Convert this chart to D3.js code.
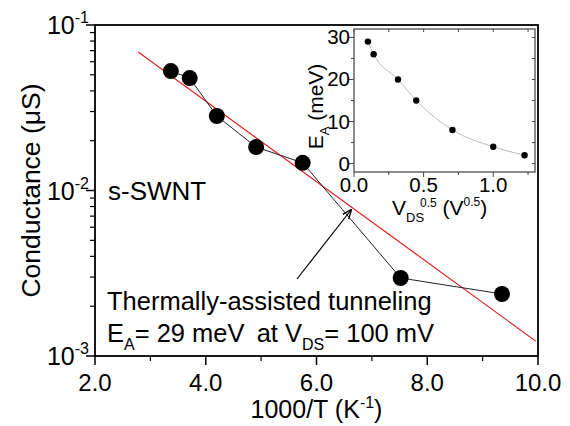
<!DOCTYPE html>
<html><head><meta charset="utf-8">
<script src="https://cdn.jsdelivr.net/npm/d3@7"></script>
<style>
html,body{margin:0;padding:0;background:#fff;}
svg text{font-family:"Liberation Sans",Arial,sans-serif;fill:#000;}
</style></head>
<body><svg id="c" width="570" height="426"></svg>
<script>
// Conductance vs inverse temperature
const invT = [3.37, 3.71, 4.20, 4.91, 5.75, 7.52, 9.35];
const conductance = [0.0527, 0.0478, 0.0282, 0.0183, 0.0147, 0.00296, 0.00237];
// Arrhenius fit line endpoints
const fitX = [2.78, 9.96];
const fitY = [0.0687, 0.00123];
// Inset: activation energy vs sqrt(V_DS)
const sqrtVds = [0.1, 0.141, 0.316, 0.447, 0.707, 1.0, 1.225];
const activation = [29, 26, 20, 15, 8, 4, 2];

const xTicks = [2, 4, 6, 8, 10];
const xMinor = [3, 5, 7, 9];
const yExp = [-3, -2, -1];
const insetXTicks = [0, 0.5, 1.0];
const insetYTicks = [0, 10, 20, 30];

const svg = d3.select("#c");
const L = 95, R = 538, T = 25, B = 356;
const x = d3.scaleLinear().domain([2, 10]).range([L, R]);
const y = d3.scaleLog().domain([1e-3, 1e-1]).range([B, T]);

// y minor ticks
const yMinor = [];
yExp.slice(0, 2).forEach(e => { for (let k = 2; k <= 9; k++) yMinor.push(k * Math.pow(10, e)); });

const g = svg.append("g");
g.selectAll(".ym").data(yMinor).join("line")
  .attr("x1", L - 5).attr("x2", L).attr("y1", d => y(d)).attr("y2", d => y(d))
  .attr("stroke", "#000").attr("stroke-width", 1.2);
g.selectAll(".yM").data(yExp).join("line")
  .attr("x1", L - 9).attr("x2", L).attr("y1", d => y(Math.pow(10, d))).attr("y2", d => y(Math.pow(10, d)))
  .attr("stroke", "#000").attr("stroke-width", 1.5);
g.selectAll(".xm").data(xMinor).join("line")
  .attr("x1", d => x(d)).attr("x2", d => x(d)).attr("y1", B).attr("y2", B + 5)
  .attr("stroke", "#000").attr("stroke-width", 1.2);
g.selectAll(".xM").data(xTicks).join("line")
  .attr("x1", d => x(d)).attr("x2", d => x(d)).attr("y1", B).attr("y2", B + 9)
  .attr("stroke", "#000").attr("stroke-width", 1.5);

// frame
g.append("rect").attr("x", L).attr("y", T).attr("width", R - L).attr("height", B - T)
  .attr("fill", "none").attr("stroke", "#000").attr("stroke-width", 1.8);

// tick labels
g.selectAll(".xl").data(xTicks).join("text")
  .attr("x", d => x(d)).attr("y", B + 35).attr("text-anchor", "middle")
  .attr("font-size", 24).text(d => d.toFixed(1));
const yl = g.selectAll(".yl").data(yExp).join("text")
  .attr("x", L - 6).attr("y", d => y(Math.pow(10, d)) + 9).attr("text-anchor", "end")
  .attr("font-size", 25);
yl.append("tspan").text("10");
yl.append("tspan").attr("dy", -11).attr("font-size", 16).text(d => "-" + (-d));

// axis titles
const xt = g.append("text").attr("x", x(6)).attr("y", 418).attr("text-anchor", "middle").attr("font-size", 25);
xt.append("tspan").text("1000/T (K");
xt.append("tspan").attr("dy", -10).attr("font-size", 16).text("-1");
xt.append("tspan").attr("dy", 10).text(")");
g.append("text").attr("transform", `translate(40,${(T + B) / 2}) rotate(-90)`)
  .attr("text-anchor", "middle").attr("font-size", 26.5).text("Conductance (\u03bcS)");

// fit line
g.append("line").attr("x1", x(fitX[0])).attr("y1", y(fitY[0])).attr("x2", x(fitX[1])).attr("y2", y(fitY[1]))
  .attr("stroke", "#e02020").attr("stroke-width", 1.2);

// data
const pts = invT.map((v, i) => [v, conductance[i]]);
g.append("path").attr("d", d3.line().x(d => x(d[0])).y(d => y(d[1]))(pts))
  .attr("fill", "none").attr("stroke", "#222").attr("stroke-width", 1);
g.selectAll(".pt").data(pts).join("circle")
  .attr("cx", d => x(d[0])).attr("cy", d => y(d[1])).attr("r", 8).attr("fill", "#000");

// annotations
g.append("text").attr("x", 108).attr("y", 200).attr("font-size", 26).text("s-SWNT");
g.append("text").attr("x", 107).attr("y", 310).attr("font-size", 25.5).text("Thermally-assisted tunneling");
const ea = g.append("text").attr("x", 107).attr("y", 342).attr("font-size", 25.5);
ea.append("tspan").text("E");
ea.append("tspan").attr("dy", 8).attr("font-size", 16).text("A");
ea.append("tspan").attr("dy", -8).text("= 29 meV");
ea.append("tspan").attr("dx", 14).text("at V");
ea.append("tspan").attr("dy", 8).attr("font-size", 16).text("DS");
ea.append("tspan").attr("dy", -8).text("= 100 mV");

// arrow
svg.append("defs").append("marker").attr("id", "ah").attr("viewBox", "0 0 10 10")
  .attr("refX", 9).attr("refY", 5).attr("markerWidth", 8).attr("markerHeight", 8).attr("orient", "auto")
  .append("path").attr("d", "M0,1 L10,5 L0,9").attr("fill", "none").attr("stroke", "#000").attr("stroke-width", 1.5);
g.append("line").attr("x1", 297).attr("y1", 279).attr("x2", 351).attr("y2", 210)
  .attr("stroke", "#000").attr("stroke-width", 1.2).attr("marker-end", "url(#ah)");

// inset
const iL = 354, iR = 535, iT = 29, iB = 172;
const ix = d3.scaleLinear().domain([0, 1.3]).range([iL, iR]);
const iy = d3.scaleLinear().domain([-2, 32]).range([iB, iT]);
const ig = svg.append("g");
ig.append("rect").attr("x", iL - 2).attr("y", iT - 2).attr("width", iR - iL + 4).attr("height", iB - iT + 4)
  .attr("fill", "#fff").attr("stroke", "none");
ig.append("rect").attr("x", iL).attr("y", iT).attr("width", iR - iL).attr("height", iB - iT)
  .attr("fill", "none").attr("stroke", "#666").attr("stroke-width", 1.5);
const ixAll = d3.range(0, 1.26, 0.25);
ig.selectAll(".ixb").data(ixAll).join("line")
  .attr("x1", d => ix(d)).attr("x2", d => ix(d)).attr("y1", iB).attr("y2", d => iB + (Math.abs(d * 2 - Math.round(d * 2)) < 1e-6 ? 5 : 3))
  .attr("stroke", "#444").attr("stroke-width", 1);
ig.selectAll(".ixt").data(ixAll).join("line")
  .attr("x1", d => ix(d)).attr("x2", d => ix(d)).attr("y1", iT).attr("y2", iT + 3)
  .attr("stroke", "#444").attr("stroke-width", 1);
const iyAll = d3.range(0, 31, 5);
ig.selectAll(".iyl").data(iyAll).join("line")
  .attr("x1", d => iL - (d % 10 === 0 ? 5 : 3)).attr("x2", iL).attr("y1", d => iy(d)).attr("y2", d => iy(d))
  .attr("stroke", "#444").attr("stroke-width", 1);
ig.selectAll(".iyr").data(iyAll).join("line")
  .attr("x1", iR - 3).attr("x2", iR).attr("y1", d => iy(d)).attr("y2", d => iy(d))
  .attr("stroke", "#444").attr("stroke-width", 1);
ig.selectAll(".ixlab").data(insetXTicks).join("text")
  .attr("x", d => ix(d)).attr("y", iB + 20).attr("text-anchor", "middle").attr("font-size", 20.5)
  .text(d => d.toFixed(1));
ig.selectAll(".iylab").data(insetYTicks).join("text")
  .attr("x", iL - 4).attr("y", d => iy(d) + 7).attr("text-anchor", "end").attr("font-size", 20.5)
  .text(d => d);
const iyt = ig.append("text").attr("transform", `translate(323,${(iT + iB) / 2 + 6}) rotate(-90)`)
  .attr("text-anchor", "middle").attr("font-size", 21);
iyt.append("tspan").text("E");
iyt.append("tspan").attr("dy", 6).attr("font-size", 13).text("A");
iyt.append("tspan").attr("dy", -6).text(" (meV)");
const ixt = ig.append("text").attr("x", 392).attr("y", 215).attr("font-size", 21);
ixt.append("tspan").text("V");
ixt.append("tspan").attr("dy", 7).attr("font-size", 13).text("DS");
ixt.append("tspan").attr("dy", -15).attr("dx", -4).attr("font-size", 12).text("0.5");
ixt.append("tspan").attr("dy", 8).text(" (V");
ixt.append("tspan").attr("dy", -9).attr("font-size", 12).text("0.5");
ixt.append("tspan").attr("dy", 9).text(")");

const ipts = sqrtVds.map((v, i) => [v, activation[i]]);
ig.append("path").attr("d", d3.line().curve(d3.curveMonotoneX).x(d => ix(d[0])).y(d => iy(d[1]))(ipts))
  .attr("fill", "none").attr("stroke", "#bbb").attr("stroke-width", 1);
ig.selectAll(".ip").data(ipts).join("circle")
  .attr("cx", d => ix(d[0])).attr("cy", d => iy(d[1])).attr("r", 3.2).attr("fill", "#000");
</script></body></html>
